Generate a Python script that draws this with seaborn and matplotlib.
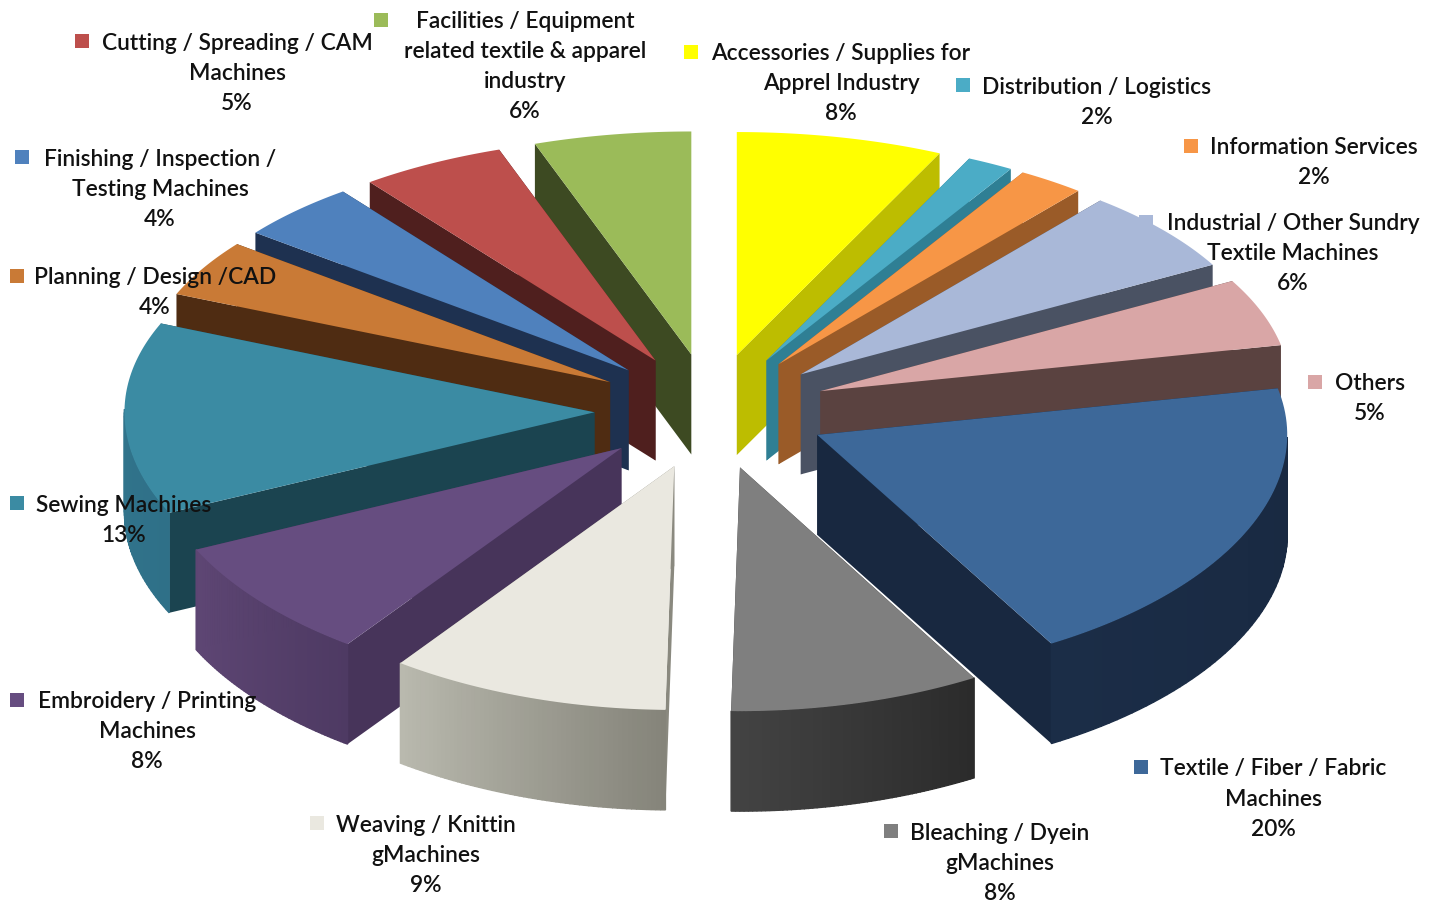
import numpy as np
import pandas as pd
import seaborn as sns
import matplotlib.pyplot as plt
from matplotlib.patches import Rectangle

sns.set_theme(style="white")
plt.rcParams['font.family'] = ['Lato', 'DejaVu Sans']

# slices, clockwise from 12 o'clock
categories = ['Accessories / Supplies for\nApprel Industry', 'Distribution / Logistics',
              'Information Services', 'Industrial / Other Sundry\nTextile Machines', 'Others',
              'Textile / Fiber / Fabric\nMachines', 'Bleaching / Dyein\ngMachines',
              'Weaving / Knittin\ngMachines', 'Embroidery / Printing\nMachines', 'Sewing Machines',
              'Planning / Design /CAD', 'Finishing / Inspection /\nTesting Machines',
              'Cutting / Spreading / CAM\nMachines', 'Facilities / Equipment\nrelated textile & apparel\nindustry']
percent_labels = ['8%', '2%', '2%', '6%', '5%', '20%', '8%', '9%', '8%', '13%', '4%', '4%', '5%', '6%']
# shares
shares = [7.1, 1.6, 2.3, 6.0, 4.8, 19.9, 8.6, 9.6, 8.1, 13.3, 4.1, 4.2, 5.0, 5.4]

top_colors = ['#FFFF00', '#4BACC6', '#F79646', '#A9B8D8', '#D9A6A6', '#3D6899', '#7F7F7F',
              '#EAE8E0', '#664D80', '#3B8BA3', '#C97A36', '#4F81BD', '#BD4F4C', '#9BBB59']
wall_colors = ['#BDBD00', '#2F7F94', '#9A5B28', '#4A5263', '#5A4240', '#182840', '#333333',
               '#8A897F', '#47345A', '#1B4450', '#4F2C12', '#1E3150', '#4F1F1E', '#3D4A22']
rim_left = ['#BDBD00', '#3A8DA3', '#B8702F', '#5A6478', '#5A4240', '#1B2D47', '#434343',
            '#B9B9AE', '#5E4674', '#33788F', '#4F2C12', '#1E3150', '#4F1F1E', '#3D4A22']
rim_right = ['#BDBD00', '#3A8DA3', '#B8702F', '#5A6478', '#5A4240', '#182840', '#2B2B2B',
             '#85847A', '#4E3A63', '#2F7088', '#4F2C12', '#1E3150', '#4F1F1E', '#3D4A22']

# label layout in picture pixels: key x, key y, text centre x, first line y
label_layout = [(691, 52, 841, 54), (963, 85, 1097, 87), (1191, 146, 1314, 148), (1146, 222, 1293, 224),
                (1315, 382, 1370, 384), (1141, 767, 1273, 769), (891, 831, 1000, 833), (317, 823, 426, 825),
                (17, 700, 147, 702), (17, 503, 124, 505), (17, 276, 155, 278), (22, 157, 160, 159),
                (82, 41, 237, 43), (381, 20, 525, 22)]

cx, cy = 711, 411
rx, ry = 470, 233
explode = 0.248
persp = 0.03
depth = 100


def project(px, py):
    # py is positive toward the viewer
    s = 1 / (1 - persp * py)
    return cx + rx * px, cy + ry * py * s


def blend(c1, c2, t):
    a = np.array(plt.matplotlib.colors.to_rgb(c1))
    b = np.array(plt.matplotlib.colors.to_rgb(c2))
    return a + (b - a) * t


fig = plt.figure(figsize=(14.39, 9.01), dpi=100)
ax = fig.add_axes([0, 0, 1, 1])

edges = np.cumsum([0] + shares) / sum(shares) * 2 * np.pi
bisect = (edges[:-1] + edges[1:]) / 2

# back slices first
order = np.argsort(-np.cos(bisect))
for z, i in enumerate(order):
    ox, oy = explode * np.sin(bisect[i]), -explode * np.cos(bisect[i])
    th = np.linspace(edges[i], edges[i + 1], 60)
    arc_x, arc_y = project(ox + np.sin(th), oy - np.cos(th))
    tip_x, tip_y = project(ox, oy)

    # radial faces
    for k in (0, -1):
        ax.fill([tip_x, arc_x[k], arc_x[k], tip_x], [tip_y, arc_y[k], arc_y[k] + depth, tip_y + depth],
                color=wall_colors[i], lw=0, zorder=z + 1)
    # outer rim, only the part facing the viewer
    for j in range(len(th) - 1):
        if -np.cos(th[j]) < 0:
            continue
        shade = blend(rim_right[i], rim_left[i], j / (len(th) - 2))
        ax.fill([arc_x[j], arc_x[j + 1], arc_x[j + 1], arc_x[j]],
                [arc_y[j], arc_y[j + 1], arc_y[j + 1] + depth, arc_y[j] + depth],
                facecolor=shade, edgecolor=shade, lw=1, zorder=z + 1)
    ax.fill(np.r_[tip_x, arc_x], np.r_[tip_y, arc_y], color=top_colors[i], lw=0, zorder=z + 1)

keys = pd.DataFrame({'x': [l[0] for l in label_layout], 'y': [l[1] for l in label_layout],
                     'name': categories})
sns.scatterplot(data=keys, x='x', y='y', hue='name', palette=top_colors, marker='s', s=105,
                linewidth=0, legend=False, ax=ax, zorder=50)
ax.set_xlim(0, 1439)
ax.set_ylim(901, 0)
ax.axis('off')

# the two long labels run off the chart area on the right
clip = Rectangle((0, 0), 1419, 901, transform=ax.transData)
for name, pct, (kx, ky, tx, ty) in zip(categories, percent_labels, label_layout):
    lines = name.split('\n') + [pct]
    for n, line in enumerate(lines):
        t = ax.text(tx, ty + n * 30, line, ha='center', va='center', fontsize=16.4, color='#111111',
                    fontweight='semibold', zorder=60)
        t.set_clip_path(clip)

fig.savefig('out.png', dpi=100)
